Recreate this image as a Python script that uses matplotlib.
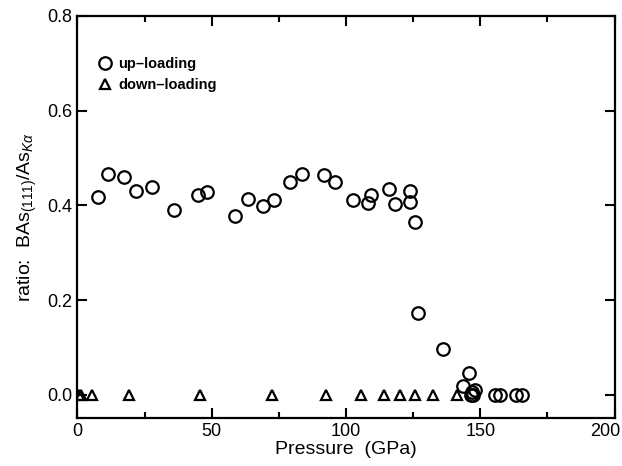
import numpy as np
import matplotlib.pyplot as plt
from matplotlib.ticker import MultipleLocator

plt.rcParams['font.family'] = ['Liberation Sans', 'DejaVu Sans']
plt.rcParams['mathtext.fontset'] = 'custom'
plt.rcParams['mathtext.rm'] = 'Liberation Sans'
plt.rcParams['mathtext.it'] = 'Liberation Sans:italic'

# up-loading (circles)
p_up = [7.7, 11.5, 17.5, 21.9, 27.7, 35.9, 44.8, 48.3, 58.7, 63.4, 69.0, 73.3,
        79.0, 83.6, 91.9, 95.8, 102.7, 108.1, 109.4, 115.9, 118.2, 123.9, 123.9,
        125.8, 126.7, 136.2, 143.7, 145.9, 146.6, 147.0, 147.4, 148.0,
        155.5, 157.4, 163.3, 165.4]
r_up = [0.418, 0.467, 0.460, 0.430, 0.438, 0.391, 0.421, 0.429, 0.377, 0.413, 0.398, 0.411,
        0.449, 0.467, 0.465, 0.450, 0.411, 0.406, 0.423, 0.434, 0.403, 0.430, 0.408,
        0.364, 0.172, 0.097, 0.019, 0.045, 0.0, 0.005, 0.0, 0.010,
        0.0, 0.0, 0.0, 0.0]

# down-loading (triangles)
p_down = [0.5, 1.5, 5.5, 19.3, 45.8, 72.5, 92.5, 105.6, 114.3, 120.1, 125.7, 132.3, 141.2]
r_down = [0.0] * len(p_down)

xticks = [0, 50, 100, 150, 200]
yticks = [0.0, 0.2, 0.4, 0.6, 0.8]

fig = plt.figure(figsize=(6.22, 4.66), dpi=100)
ax = fig.add_axes([0.1244, 0.103, 0.8637, 0.8627])

ax.plot(p_up, r_up, 'o', mfc='none', mec='black', mew=1.6, ms=9, label='up\u2013loading')
ax.plot(p_down, r_down, '^', mfc='none', mec='black', mew=1.6, ms=7.5, label='down\u2013loading')

ax.set_xlim(0, 200)
ax.set_ylim(-0.049, 0.8)
ax.set_xticks(xticks)
# last label is drawn separately, shifted left so it stays inside the figure
ax.set_xticklabels([str(t) for t in xticks[:-1]] + [''])
ax.xaxis.set_minor_locator(MultipleLocator(25))
ax.set_yticks(yticks)
ax.set_yticklabels(['%.1f' % t for t in yticks])

ax.tick_params(which='both', direction='in', top=True, right=True, width=1.5, labelsize=13)
ax.tick_params(which='major', length=7)
ax.tick_params(which='minor', length=4)
for s in ax.spines.values():
    s.set_linewidth(1.6)

ax.annotate(str(xticks[-1]), xy=(1, 0), xycoords='axes fraction', xytext=(-7, -3.5),
            textcoords='offset points', ha='center', va='top', fontsize=13)

ax.set_xlabel('Pressure  (GPa)', fontsize=14, labelpad=1)
ax.set_ylabel(r'ratio:  BAs$_{(111)}$/As$_{K\alpha}$', fontsize=14, labelpad=6)

ax.legend(loc='upper left', bbox_to_anchor=(-0.008, 0.955), frameon=False,
          handletextpad=0.3, borderaxespad=1.2, labelspacing=0.45, handlelength=1.2,
          prop={'weight': 'bold', 'size': 10.5})

fig.savefig('out.png', dpi=100)
